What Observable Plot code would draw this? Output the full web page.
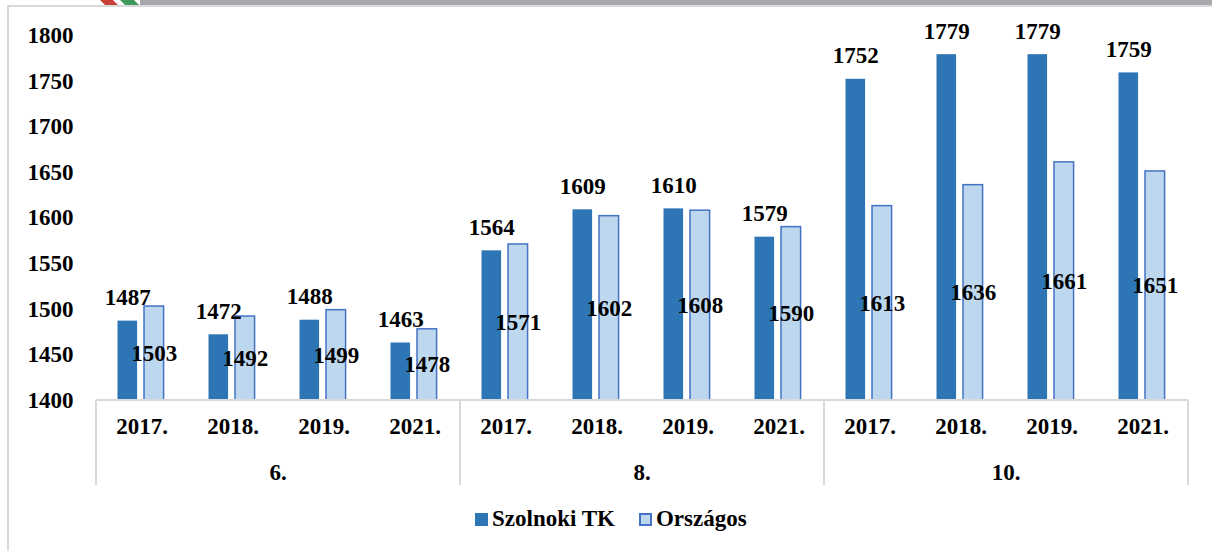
<!DOCTYPE html>
<html>
<head>
<meta charset="utf-8">
<script src="https://cdn.jsdelivr.net/npm/d3@7"></script>
<script src="https://cdn.jsdelivr.net/npm/@observablehq/plot@0.6"></script>
<style>
  html, body { margin: 0; padding: 0; background: #fff; }
  body { width: 1212px; height: 551px; position: relative; overflow: hidden; font-family: 'Liberation Serif', 'Times New Roman', serif; }
  #topbar { position: absolute; left: 0; top: 0; width: 1212px; height: 5px; }
  #frame { position: absolute; left: 7px; top: 5px; width: 1220px; height: 560px; border: 2px solid #d9d9d9; box-sizing: border-box; }
  #chart { position: absolute; left: 0; top: 0; }
  #chart svg text { font-family: 'Liberation Serif', 'Times New Roman', serif !important; }
  #legend { position: absolute; left: 475px; top: 506px; display: flex; align-items: center; font-family: 'Liberation Serif', 'Times New Roman', serif; font-weight: bold; font-size: 23px; color: #000; }
  .sw { width: 13px; height: 13px; margin-right: 4px; box-sizing: border-box; }
  .item { display: flex; align-items: center; margin-right: 24px; }
</style>
</head>
<body>
<svg id="topbar" width="1212" height="5">
  <rect x="140" y="0" width="1072" height="5" fill="#a7a8ac"></rect>
  <polygon points="100,0 113,0 118,5 105,5" fill="#c8413a"></polygon>
  <polygon points="120,0 134,0 139,5 125,5" fill="#3e9a5b"></polygon>
</svg>
<div id="frame"></div>
<div id="chart"></div>
<div id="legend">
  <div class="item"><div class="sw" style="background:#2E75B6"></div>Szolnoki TK</div>
  <div class="item"><div class="sw" style="background:#BDD7EE;border:2px solid #4472C4"></div>Országos</div>
</div>
<script>
// ---- data ----
const groups = ["6.", "8.", "10."];
const years = ["2017.", "2018.", "2019.", "2021."];
const szolnoki = [1487, 1472, 1488, 1463, 1564, 1609, 1610, 1579, 1752, 1779, 1779, 1759];
const orszagos = [1503, 1492, 1499, 1478, 1571, 1602, 1608, 1590, 1613, 1636, 1661, 1651];
const yTicks = [1400, 1450, 1500, 1550, 1600, 1650, 1700, 1750, 1800];
const seriesNames = ["Szolnoki TK", "Országos"];

// ---- table ----
const keys = [];
groups.forEach(g => years.forEach(y => keys.push(g + "|" + y)));
const rowsS = keys.map((k, i) => ({key: k, value: szolnoki[i]}));
const rowsO = keys.map((k, i) => ({key: k, value: orszagos[i]}));

const font = "'Liberation Serif', 'Times New Roman', serif";
const FS = 23;
const W = 1212, H = 500;
const mL = 93, mR = 22, mT = 35, mB = 100;
const bw = (W - mL - mR) / keys.length;

const plot = Plot.plot({
  width: W, height: H,
  marginLeft: mL, marginRight: mR, marginTop: mT, marginBottom: mB,
  style: {fontFamily: font, fontWeight: "bold", fontSize: FS + "px", color: "#000", background: "transparent", overflow: "visible"},
  x: {type: "band", domain: keys, padding: 0, axis: null},
  y: {domain: [1400, 1800], axis: null},
  marks: [
    Plot.axisY({ticks: yTicks, tickSize: 0, tickPadding: 20, fontSize: FS, fontWeight: "bold", tickFormat: d => String(d), label: null}),
    Plot.axisX({tickSize: 0, tickPadding: 17, fontSize: FS, fontWeight: "bold", tickFormat: d => d.split("|")[1], label: null}),
    Plot.barY(rowsS, {x: "key", y1: 1400, y2: "value", fill: "#2E75B6", insetLeft: 21.5, insetRight: bw - 41.5}),
    Plot.barY(rowsO, {x: "key", y1: 1400, y2: "value", fill: "#BDD7EE", stroke: "#4472C4", strokeWidth: 1.5, insetLeft: 48, insetRight: bw - 68}),
    Plot.text(rowsS, {x: "key", y: "value", text: d => String(d.value), dx: 31.5 - bw / 2, dy: -16, lineAnchor: "bottom", fontSize: FS, fontWeight: "bold", fill: "#000"}),
    Plot.text(rowsO, {x: "key", y: d => (d.value + 1400) / 2, text: d => String(d.value), dx: 58 - bw / 2, fontSize: FS, fontWeight: "bold", fill: "#000"})
  ]
});
document.getElementById("chart").appendChild(plot);

// category axis lines and group labels, placed through the plot's own scales
const xs = plot.scale("x"), ys = plot.scale("y");
const svg = d3.select(plot);
const y0 = ys.apply(1400);
const g = svg.append("g");
const xStart = xs.apply(keys[0]);
const xEnd = xs.apply(keys[keys.length - 1]) + xs.bandwidth;
g.append("line").attr("x1", xStart).attr("x2", xEnd).attr("y1", y0).attr("y2", y0)
  .attr("stroke", "#d9d9d9").attr("stroke-width", 2);
groups.forEach((gr, gi) => {
  const first = xs.apply(gr + "|" + years[0]);
  const last = xs.apply(gr + "|" + years[years.length - 1]) + xs.bandwidth;
  [first, last].forEach(x => g.append("line").attr("x1", x).attr("x2", x).attr("y1", y0).attr("y2", y0 + 85)
    .attr("stroke", "#d9d9d9").attr("stroke-width", 2));
  g.append("text").attr("x", (first + last) / 2).attr("y", y0 + 80)
    .attr("text-anchor", "middle").attr("font-size", FS).attr("font-weight", "bold")
    .attr("font-family", font).attr("fill", "#000").text(gr);
});
</script>
</body>
</html>
